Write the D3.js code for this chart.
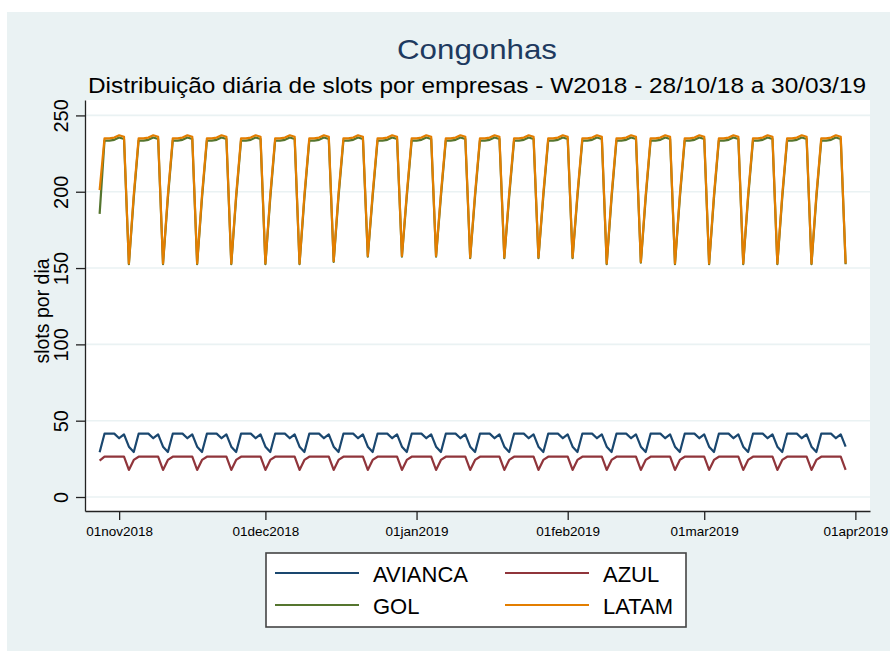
<!DOCTYPE html>
<html>
<head>
<meta charset="utf-8">
<script src="https://cdn.jsdelivr.net/npm/d3@7"></script>
<style>
  body { margin: 0; background: #fff; }
  text { font-family: "Liberation Sans", Arial, sans-serif; }
</style>
</head>
<body>
<svg id="chart" width="890" height="651"></svg>
<script>
// daily slots, one row per week (Sun .. Sat), 28/10/18 to 30/03/19
const startDay = Date.UTC(2018, 9, 28);

const avianca = [
    [29.3, 41.5, 41.5, 41.5, 38.5, 41, 33],
    [29.5, 41.5, 41.5, 41.5, 38.5, 41, 33],
    [29.5, 41.5, 41.5, 41.5, 38.5, 41, 33],
    [29.5, 41.5, 41.5, 41.5, 38.5, 41, 33],
    [29.5, 41.5, 41.5, 41.5, 38.5, 41, 33],
    [29.5, 41.5, 41.5, 41.5, 38.5, 41, 33],
    [29.5, 41.5, 41.5, 41.5, 38.5, 41, 33],
    [29.5, 41.5, 41.5, 41.5, 38.5, 41, 33],
    [29.5, 41.5, 41.5, 41.5, 38.5, 41, 33],
    [29.5, 41.5, 41.5, 41.5, 38.5, 41, 33],
    [29.5, 41.5, 41.5, 41.5, 38.5, 41, 33],
    [29.5, 41.5, 41.5, 41.5, 38.5, 41, 33],
    [29.5, 41.5, 41.5, 41.5, 38.5, 41, 33],
    [29.5, 41.5, 41.5, 41.5, 38.5, 41, 33],
    [29.5, 41.5, 41.5, 41.5, 38.5, 41, 33],
    [29.5, 41.5, 41.5, 41.5, 38.5, 41, 33],
    [29.5, 41.5, 41.5, 41.5, 38.5, 41, 33],
    [29.5, 41.5, 41.5, 41.5, 38.5, 41, 33],
    [29.5, 41.5, 41.5, 41.5, 38.5, 41, 33],
    [29.5, 41.5, 41.5, 41.5, 38.5, 41, 33],
    [29.5, 41.5, 41.5, 41.5, 38.5, 41, 33],
    [29.5, 41.5, 41.5, 41.5, 38.5, 41, 33]
];

const azul = [
    [23.8, 26.4, 26.4, 26.4, 26.4, 26.4, 17.7],
    [24.3, 26.4, 26.4, 26.4, 26.4, 26.4, 17.7],
    [24.3, 26.4, 26.4, 26.4, 26.4, 26.4, 17.7],
    [24.3, 26.4, 26.4, 26.4, 26.4, 26.4, 17.7],
    [24.3, 26.4, 26.4, 26.4, 26.4, 26.4, 17.7],
    [24.3, 26.4, 26.4, 26.4, 26.4, 26.4, 17.7],
    [24.3, 26.4, 26.4, 26.4, 26.4, 26.4, 17.7],
    [24.3, 26.4, 26.4, 26.4, 26.4, 26.4, 17.7],
    [24.3, 26.4, 26.4, 26.4, 26.4, 26.4, 17.7],
    [24.3, 26.4, 26.4, 26.4, 26.4, 26.4, 17.7],
    [24.3, 26.4, 26.4, 26.4, 26.4, 26.4, 17.7],
    [24.3, 26.4, 26.4, 26.4, 26.4, 26.4, 17.7],
    [24.3, 26.4, 26.4, 26.4, 26.4, 26.4, 17.7],
    [24.3, 26.4, 26.4, 26.4, 26.4, 26.4, 17.7],
    [24.3, 26.4, 26.4, 26.4, 26.4, 26.4, 17.7],
    [24.3, 26.4, 26.4, 26.4, 26.4, 26.4, 17.7],
    [24.3, 26.4, 26.4, 26.4, 26.4, 26.4, 17.7],
    [24.3, 26.4, 26.4, 26.4, 26.4, 26.4, 17.7],
    [24.3, 26.4, 26.4, 26.4, 26.4, 26.4, 17.7],
    [24.3, 26.4, 26.4, 26.4, 26.4, 26.4, 17.7],
    [24.3, 26.4, 26.4, 26.4, 26.4, 26.4, 17.7],
    [24.3, 26.4, 26.4, 26.4, 26.4, 26.4, 17.7]
];

const gol = [
    [185.5, 233.5, 233.5, 234, 235.5, 234.5, 152.5],
    [196, 233.5, 233.5, 234, 235.5, 234.5, 152.5],
    [196, 233.5, 233.5, 234, 235.5, 234.5, 152.5],
    [196, 233.5, 233.5, 234, 235.5, 234.5, 152.5],
    [196, 233.5, 233.5, 234, 235.5, 234.5, 152.5],
    [196, 233.5, 233.5, 234, 235.5, 234.5, 152.5],
    [196, 233.5, 233.5, 234, 235.5, 234.5, 154],
    [197, 233.5, 233.5, 234, 235.5, 234.5, 157.5],
    [197, 233.5, 233.5, 234, 235.5, 234.5, 157.5],
    [197, 233.5, 233.5, 234, 235.5, 234.5, 157.5],
    [197, 233.5, 233.5, 234, 235.5, 234.5, 156.5],
    [197, 233.5, 233.5, 234, 235.5, 234.5, 156.5],
    [197, 233.5, 233.5, 234, 235.5, 234.5, 156.5],
    [197, 233.5, 233.5, 234, 235.5, 234.5, 156.5],
    [197, 233.5, 233.5, 234, 235.5, 234.5, 152.5],
    [196, 233.5, 233.5, 234, 235.5, 234.5, 153.5],
    [196, 233.5, 233.5, 234, 235.5, 234.5, 152.5],
    [196, 233.5, 233.5, 234, 235.5, 234.5, 152.5],
    [196, 233.5, 233.5, 234, 235.5, 234.5, 152.5],
    [196, 233.5, 233.5, 234, 235.5, 234.5, 152.5],
    [196, 233.5, 233.5, 234, 235.5, 234.5, 152.5],
    [196, 233.5, 233.5, 234, 235.5, 234.5, 152.5]
];

const latam = [
    [201, 235, 235, 235.5, 237, 236, 153],
    [198, 235, 235, 235.5, 237, 236, 153],
    [198, 235, 235, 235.5, 237, 236, 153],
    [198, 235, 235, 235.5, 237, 236, 153],
    [198, 235, 235, 235.5, 237, 236, 153],
    [198, 235, 235, 235.5, 237, 236, 153],
    [198, 235, 235, 235.5, 237, 236, 154.5],
    [199, 235, 235, 235.5, 237, 236, 158],
    [199, 235, 235, 235.5, 237, 236, 158],
    [199, 235, 235, 235.5, 237, 236, 158],
    [199, 235, 235, 235.5, 237, 236, 157],
    [199, 235, 235, 235.5, 237, 236, 157],
    [199, 235, 235, 235.5, 237, 236, 157],
    [199, 235, 235, 235.5, 237, 236, 157],
    [199, 235, 235, 235.5, 237, 236, 153],
    [198, 235, 235, 235.5, 237, 236, 154],
    [198, 235, 235, 235.5, 237, 236, 153],
    [198, 235, 235, 235.5, 237, 236, 153],
    [198, 235, 235, 235.5, 237, 236, 153],
    [198, 235, 235, 235.5, 237, 236, 153],
    [198, 235, 235, 235.5, 237, 236, 153],
    [198, 235, 235, 235.5, 237, 236, 153]
];

const seriesNames = ['AVIANCA', 'AZUL', 'GOL', 'LATAM'];
const seriesColors = ['#1a476f', '#90353b', '#55752f', '#e37e00'];
const yTicks = [0, 50, 100, 150, 200, 250];
const xTickDates = [Date.UTC(2018, 10, 1), Date.UTC(2018, 11, 1), Date.UTC(2019, 0, 1),
    Date.UTC(2019, 1, 1), Date.UTC(2019, 2, 1), Date.UTC(2019, 3, 1)];
const xTickLabels = ['01nov2018', '01dec2018', '01jan2019', '01feb2019', '01mar2019', '01apr2019'];

const svg = d3.select('#chart');
const plot = {left: 85, right: 870, top: 100, bottom: 511};

// outer graph region
svg.append('rect').attr('x', 7).attr('y', 12).attr('width', 883).attr('height', 639).attr('fill', '#eaf2f3');
svg.append('rect').attr('x', plot.left).attr('y', plot.top)
    .attr('width', plot.right - plot.left).attr('height', plot.bottom - plot.top).attr('fill', '#fff');

let x = d3.scaleUtc()
    .domain([Date.UTC(2018, 9, 25), Date.UTC(2019, 3, 4)])
    .range([plot.left, plot.right]);
let y = d3.scaleLinear()
    .domain([-9.17, 260.1])
    .range([plot.bottom, plot.top]);

// grid
svg.append('g').selectAll('line').data(yTicks).join('line')
    .attr('x1', plot.left).attr('x2', plot.right)
    .attr('y1', d => y(d)).attr('y2', d => y(d))
    .attr('stroke', '#eaf2f3').attr('stroke-width', 1.6);

// lines
let toPoints = rows => rows.flat().map((v, i) => ({date: startDay + i * 86400000, value: v}));
let line = d3.line().x(d => x(d.date)).y(d => y(d.value));
[avianca, azul, gol, latam].forEach((rows, k) => {
    svg.append('path')
        .datum(toPoints(rows))
        .attr('fill', 'none')
        .attr('stroke', seriesColors[k])
        .attr('stroke-width', 2.2)
        .attr('stroke-linejoin', 'round')
        .attr('d', line);
});

// axes
let yAxis = svg.append('g').attr('transform', 'translate(' + plot.left + ',0)')
    .call(d3.axisLeft(y).tickValues(yTicks).tickSize(9).tickSizeOuter(0));
yAxis.selectAll('text')
    .attr('transform', 'rotate(-90)')
    .attr('x', 0).attr('y', -17).attr('dy', 0)
    .attr('text-anchor', 'middle')
    .style('font-size', '20px').attr('fill', '#000');
yAxis.selectAll('line, path').attr('stroke', '#222').attr('stroke-width', 1.3);
yAxis.selectAll('text').style('font-family', '"Liberation Sans", Arial, sans-serif');

let xAxis = svg.append('g').attr('transform', 'translate(0,' + plot.bottom + ')')
    .call(d3.axisBottom(x).tickValues(xTickDates).tickSize(9).tickSizeOuter(0)
        .tickFormat((d, i) => xTickLabels[i]));
xAxis.selectAll('text')
    .attr('y', 25).attr('dy', 0)
    .style('font-size', '13.5px').attr('fill', '#000')
    .style('font-family', '"Liberation Sans", Arial, sans-serif');
xAxis.selectAll('line, path').attr('stroke', '#222').attr('stroke-width', 1.3);

// titles
svg.append('text').attr('x', 477).attr('y', 59).attr('text-anchor', 'middle')
    .attr('textLength', 160).attr('lengthAdjust', 'spacingAndGlyphs')
    .style('font-size', '28px').attr('fill', '#1e3a5f').text('Congonhas');
svg.append('text').attr('x', 477).attr('y', 93).attr('text-anchor', 'middle')
    .attr('textLength', 778).attr('lengthAdjust', 'spacingAndGlyphs')
    .style('font-size', '22.5px').attr('fill', '#000')
    .text('Distribuição diária de slots por empresas - W2018 - 28/10/18 a 30/03/19');
svg.append('text').attr('transform', 'translate(49,311) rotate(-90)')
    .attr('text-anchor', 'middle').style('font-size', '19.5px').attr('fill', '#000')
    .text('slots por dia');

// legend
let legend = svg.append('g');
legend.append('rect').attr('x', 266).attr('y', 553).attr('width', 420).attr('height', 74)
    .attr('fill', '#fff').attr('stroke', '#444').attr('stroke-width', 1.6);
seriesNames.forEach((name, k) => {
    let cx = k % 2 == 0 ? 275 : 505;
    let cy = k < 2 ? 573 : 605;
    legend.append('line').attr('x1', cx).attr('x2', cx + 84).attr('y1', cy).attr('y2', cy)
        .attr('stroke', seriesColors[k]).attr('stroke-width', 2);
    legend.append('text').attr('x', cx + 98).attr('y', cy + 9)
        .style('font-size', '22px').attr('fill', '#000').text(name);
});
</script>
</body>
</html>
